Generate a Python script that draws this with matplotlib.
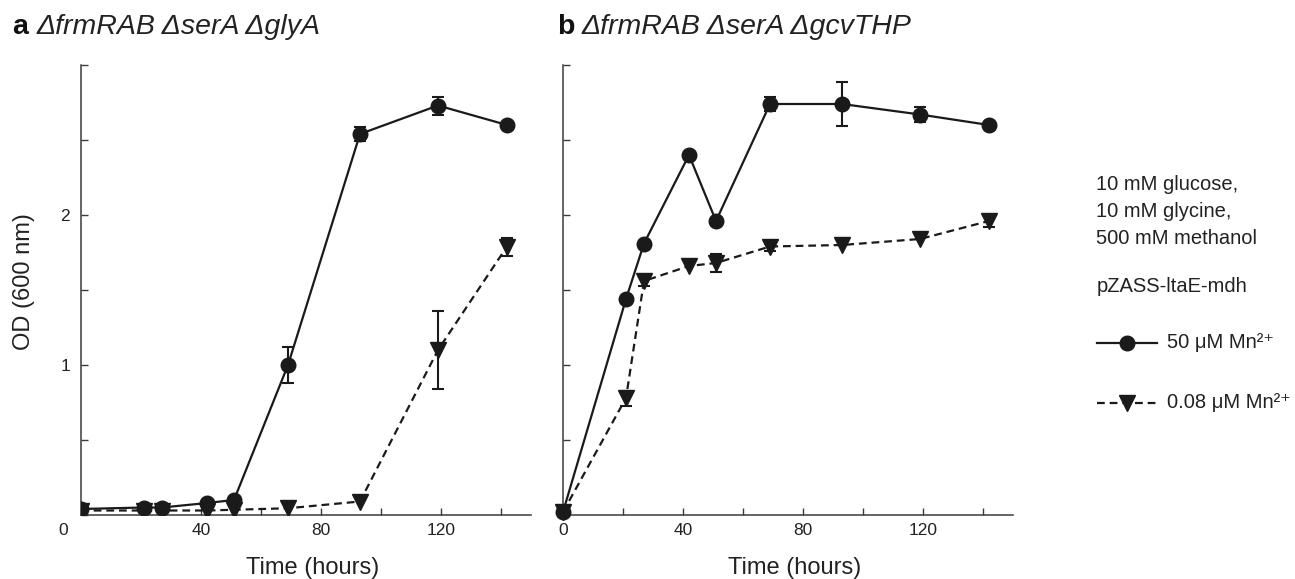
import matplotlib
matplotlib.use('Agg')
import matplotlib.pyplot as plt
from matplotlib.lines import Line2D
from matplotlib.transforms import ScaledTranslation

plt.rcParams['font.family'] = ['Liberation Sans', 'DejaVu Sans']
plt.rcParams['mathtext.fontset'] = 'custom'
plt.rcParams['mathtext.rm'] = 'Liberation Sans'
plt.rcParams['mathtext.it'] = 'Liberation Sans:italic'

# sampling times (hours)
time = [0, 21, 27, 42, 51, 69, 93, 119, 142]

# panel a: dfrmRAB dserA dglyA
a_high = [0.04, 0.05, 0.05, 0.08, 0.10, 1.00, 2.54, 2.73, 2.60]
a_high_err = [0, 0, 0, 0, 0, 0.12, 0.05, 0.06, 0]
a_low = [0.03, 0.03, 0.03, 0.03, 0.035, 0.045, 0.09, 1.10, 1.79]
a_low_err = [0, 0, 0, 0, 0, 0, 0, 0.26, 0.06]

# panel b: dfrmRAB dserA dgcvTHP
b_high = [0.02, 1.44, 1.81, 2.40, 1.96, 2.74, 2.74, 2.67, 2.60]
b_high_err = [0, 0, 0, 0, 0, 0.05, 0.15, 0.05, 0]
b_low = [0.02, 0.78, 1.56, 1.66, 1.68, 1.79, 1.80, 1.84, 1.96]
b_low_err = [0, 0.05, 0.03, 0, 0.06, 0.03, 0, 0, 0.04]

titles = [('a', '\u0394frmRAB \u0394serA \u0394glyA'),
          ('b', '\u0394frmRAB \u0394serA \u0394gcvTHP')]
conditions = ['10 mM glucose,', '10 mM glycine,', '500 mM methanol']
plasmid = 'pZASS-ltaE-mdh'
labels = ['50 \u03bcM Mn\u00b2\u207a', '0.08 \u03bcM Mn\u00b2\u207a']

W, H = 1295, 579
fig = plt.figure(figsize=(W / 100, H / 100), dpi=100)


def fx(x):
    return x / W


def fy(y):
    return 1 - y / H


spine_col = '#3a3a3a'
txt_col = '#222222'


def draw_panel(ax, high, high_err, low, low_err, clip):
    ax.plot(time, high, '-', color='#1a1a1a', lw=1.6, marker='o', ms=10.5,
            clip_on=clip, zorder=3)
    ax.plot(time, low, '--', color='#1a1a1a', lw=1.6, marker='v', ms=11,
            dashes=(3.5, 2.2), clip_on=clip, zorder=3)
    for vals, err in [(high, high_err), (low, low_err)]:
        xs = [t for t, e in zip(time, err) if e > 0]
        ys = [v for v, e in zip(vals, err) if e > 0]
        es = [e for e in err if e > 0]
        ax.errorbar(xs, ys, yerr=es, fmt='none', ecolor='#1a1a1a',
                    elinewidth=1.5, capsize=4, capthick=1.5, zorder=2)
    ax.set_xlim(0, 150)
    ax.set_ylim(0, 3)
    ax.set_xticks([0, 20, 40, 60, 80, 100, 120, 140])
    ax.set_xticklabels(['0', '', '40', '', '80', '', '120', ''])
    ax.set_yticks([0, 0.5, 1, 1.5, 2, 2.5, 3])
    ax.tick_params(direction='in', length=5, width=1, color=spine_col,
                   labelsize=12.5, labelcolor=txt_col)
    ax.tick_params(axis='x', pad=6)
    ax.tick_params(axis='y', pad=8)
    ax.spines['top'].set_visible(False)
    ax.spines['right'].set_visible(False)
    for s in ['left', 'bottom']:
        ax.spines[s].set_color(spine_col)
        ax.spines[s].set_linewidth(1.1)


ax_a = fig.add_axes([fx(81), fy(515), 450 / W, 450 / H])
ax_b = fig.add_axes([fx(563), fy(515), 450 / W, 450 / H])

draw_panel(ax_a, a_high, a_high_err, a_low, a_low_err, True)
draw_panel(ax_b, b_high, b_high_err, b_low, b_low_err, False)

ax_a.set_yticklabels(['', '', '1', '', '2', '', ''])
ax_b.set_yticklabels([])

# axis titles
for xc in [313, 795]:
    fig.text(fx(xc), fy(574), 'Time (hours)', fontsize=17, ha='center',
             va='baseline', color=txt_col)
fig.text(fx(24), fy(282), 'OD (600 nm)', fontsize=17, rotation=90,
         ha='center', va='center', color=txt_col)

# the origin label of panel a sits left of the axis corner
zero = ax_a.get_xticklabels()[0]
zero.set_transform(zero.get_transform() + ScaledTranslation(-0.18, 0, fig.dpi_scale_trans))

# panel titles
for (letter, name), x0 in zip(titles, [12, 557]):
    fig.text(fx(x0), fy(34), letter, fontsize=20.5, fontweight='bold',
             va='baseline', color='#111111')
    fig.text(fx(x0 + 25), fy(34), name, fontsize=20.5, style='italic',
             va='baseline', color=txt_col)

# condition notes and legend on the right
for i, line in enumerate(conditions):
    fig.text(fx(1096), fy(185 + 26.5 * i), line, fontsize=14.5,
             va='center', color=txt_col)
fig.text(fx(1097), fy(287), plasmid, fontsize=14.5, va='center', color=txt_col)

for i, (lab, ls, mk) in enumerate(zip(labels, ['-', '--'], ['o', 'v'])):
    y = fy(343 + 60 * i)
    ln = Line2D([fx(1097), fx(1127), fx(1157)], [y, y, y], transform=fig.transFigure,
                color='#1a1a1a', lw=1.6, ls=ls, marker=mk, ms=10.5 if mk == 'o' else 11,
                markevery=[1])
    if ls == '--':
        ln.set_dashes((3.5, 2.2))
    fig.add_artist(ln)
    fig.text(fx(1167), y, lab, fontsize=14.5, va='center', color=txt_col,
             family=['Liberation Sans', 'DejaVu Sans'])

fig.savefig('out.png', dpi=100)
